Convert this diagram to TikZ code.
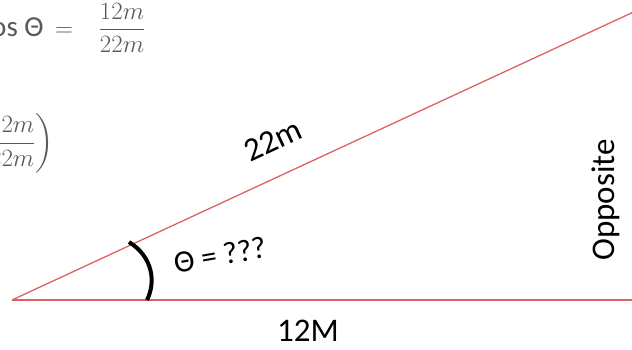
\documentclass[tikz,border=0pt]{standalone}
\usepackage{fontspec}
\setmainfont{Carlito}
\usepackage{amsmath}
\usepackage{xcolor}
\usetikzlibrary{calc}
\definecolor{sidered}{RGB}{222,98,98}
\definecolor{mathgray}{RGB}{89,89,89}
\tikzset{
  sideline/.style={
    draw=sidered, line width=1.3pt
  },
  anglemark/.style={
    draw=black, line width=4pt
  },
  sidelabel/.style={
    font=\fontsize{33}{36}\selectfont, text=black, inner sep=0pt
  },
  mathlabel/.style={
    font=\fontsize{29}{32}\selectfont, text=mathgray, inner sep=0pt
  },
  fraclabel/.style={
    font=\fontsize{27}{30}\selectfont, text=mathgray, inner sep=0pt
  },
}

\begin{document}
\begin{tikzpicture}[x=1pt, y=-1pt]
  \useasboundingbox (0,0) rectangle (632,349);
  \clip (0,0) rectangle (632,349);

  % Triangle corners
  \coordinate (vertexA) at (12,300);
  \coordinate (baseEnd) at (640,300);
  \coordinate (hypEnd) at (640,9);

  % Sides
  \draw[sideline] (vertexA) -- (baseEnd);
  \draw[sideline] (vertexA) -- (hypEnd);

  % Angle mark
  \coordinate (markTop) at (129,242);
  \coordinate (markBot) at (147,300);
  \draw[anglemark] (markTop) .. controls (153,257) and (156,282) .. (markBot);

  % Side labels
  \node[sidelabel, rotate=25] (hypLabel) at (273,140) {22m};
  \node[sidelabel] (baseLabel) at (308,331) {12M};
  \node[sidelabel, rotate=90] (oppLabel) at (606,200) {Opposite};
  \node[sidelabel, font=\fontsize{31}{34}\selectfont, rotate=10]
    (thetaLabel) at (220,255) {Θ = ???};

  % Working (cut at the left edge)
  \node[mathlabel, anchor=base west] (cosLine) at (-21,36)
    {cos Θ \,$=$};
  \node[fraclabel] (cosFrac) at (122,28) {$\dfrac{12m}{22m}$};
  \node[fraclabel, anchor=east] (invLine) at (54,143)
    {$\left(\dfrac{12m}{22m}\right)$};
\end{tikzpicture}
\end{document}
